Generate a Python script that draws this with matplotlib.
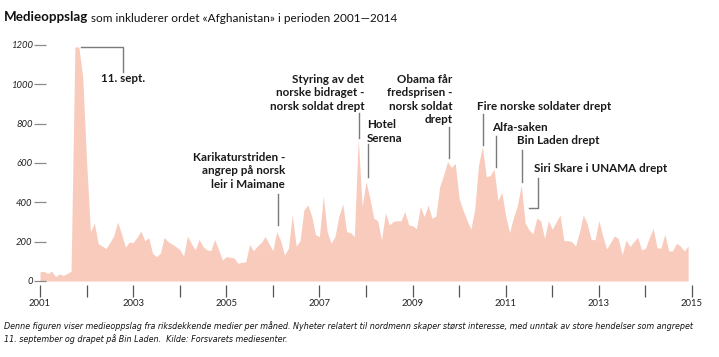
import matplotlib
matplotlib.use('Agg')
import matplotlib.pyplot as plt
import matplotlib.transforms as mtransforms
from matplotlib.ticker import FixedLocator, NullFormatter
import numpy as np

# ---------------- data (monthly media hits, Jan 2001 - Dec 2014) ----------------
start_year = 2001
values_2001 = [47, 49, 38, 50, 22, 36, 28, 38, 50, 1190, 1190, 1040]
values_2002 = [610, 250, 295, 190, 178, 165, 195, 230, 300, 240, 172, 198]
values_2003 = [195, 222, 254, 205, 220, 140, 124, 141, 222, 200, 188, 175]
values_2004 = [160, 127, 229, 190, 158, 212, 175, 158, 154, 212, 160, 107]
values_2005 = [124, 120, 117, 90, 95, 97, 185, 154, 178, 195, 226, 190]
values_2006 = [154, 251, 205, 132, 166, 336, 178, 205, 361, 387, 330, 235]
values_2007 = [226, 433, 251, 192, 226, 328, 392, 251, 246, 226, 726, 378]
values_2008 = [505, 421, 319, 307, 208, 347, 285, 302, 307, 305, 353, 285]
values_2009 = [281, 266, 378, 327, 386, 319, 330, 480, 539, 607, 578, 598]
values_2010 = [420, 360, 310, 263, 361, 590, 684, 531, 535, 569, 409, 450]
values_2011 = [331, 246, 324, 382, 489, 294, 260, 239, 319, 307, 217, 307]
values_2012 = [263, 300, 336, 205, 205, 200, 178, 250, 336, 290, 212, 209]
values_2013 = [307, 229, 163, 195, 229, 216, 132, 209, 175, 200, 222, 158]
values_2014 = [166, 220, 268, 168, 168, 238, 153, 153, 192, 178, 153, 178]

labeled_years = [2001, 2003, 2005, 2007, 2009, 2011, 2013, 2015]
unlabeled_years = [2002, 2004, 2006, 2008, 2010, 2012, 2014]
y_ticks = [0, 200, 400, 600, 800, 1000, 1200]

title_bold = "Medieoppslag"
title_rest = "som inkluderer ordet «Afghanistan» i perioden 2001\u20142014"
footer_1 = ("Denne figuren viser medieoppslag fra riksdekkende medier per måned. Nyheter relatert "
            "til nordmenn skaper størst interesse, med unntak av store hendelser som angrepet")
footer_2 = "11. september og drapet på Bin Laden.  Kilde: Forsvarets mediesenter."

values = (values_2001 + values_2002 + values_2003 + values_2004 + values_2005 +
          values_2006 + values_2007 + values_2008 + values_2009 + values_2010 +
          values_2011 + values_2012 + values_2013 + values_2014)

# ---------------- figure ----------------
W, H = 719, 357
fig = plt.figure(figsize=(W / 100, H / 100), dpi=100)
fig.patch.set_facecolor('white')

# pixel transform (origin top-left)
px = mtransforms.Affine2D().scale(1 / W, -1 / H).translate(0, 1) + fig.transFigure

ax = fig.add_axes([40 / W, (H - 281) / H, 652 / W, 236 / H])
months = np.arange(len(values))
xs = start_year + months / 12.0
ax.fill_between(xs, values, 0, color='#F8CBBD', lw=0, zorder=1)
ax.set_xlim(2001, 2015)
ax.set_ylim(0, 1200)
for s in ax.spines.values():
    s.set_visible(False)
ax.spines['bottom'].set_position(('outward', 3))

renderer = fig.canvas.get_renderer()

def fit_size(text, family, weight, style, target_px, base=10):
    t = fig.text(0, 0, text, family=family, weight=weight, style=style, fontsize=base)
    w = t.get_window_extent(renderer).width
    t.remove()
    return base * target_px / w

MAIN = ['Lato', 'DejaVu Sans']
NARROW = ['Liberation Sans Narrow', 'DejaVu Sans Condensed', 'DejaVu Sans']

ylab_fs = fit_size("1200", MAIN, 'normal', 'italic', 22)
xlab_fs = fit_size("2001", MAIN, 'normal', 'normal', 22)

ax.xaxis.set_major_locator(FixedLocator(labeled_years))
ax.xaxis.set_minor_locator(FixedLocator(unlabeled_years))
ax.xaxis.set_minor_formatter(NullFormatter())
ax.set_xticklabels([str(y) for y in labeled_years], family=MAIN, fontsize=xlab_fs, color='#222222')
ax.tick_params(axis='x', which='both', direction='out', length=8.4, width=0.9,
               color='#555555', pad=1.5)

ax.set_yticks(y_ticks)
ax.set_yticklabels([str(v) for v in y_ticks], family=MAIN, style='italic',
                   fontsize=ylab_fs, color='#222222')
ax.tick_params(axis='y', which='major', direction='inout', length=8.6, width=0.9,
               color='#8a8a8a', pad=1.0)
for t in ax.yaxis.get_major_ticks():
    t.tick1line.set_zorder(3)

# ---------------- title ----------------
tb_fs = fit_size(title_bold, MAIN, 'bold', 'normal', 84)
tr_fs = fit_size(title_rest, MAIN, 'normal', 'normal', 306)
tb = fig.text(4, 17, title_bold, transform=px, family=MAIN, weight='bold',
              fontsize=tb_fs, color='#111111', va='center', ha='left')
bb = tb.get_window_extent(renderer)
x_after = bb.x1 + 3
fig.text(x_after, 18, title_rest, transform=px, family=MAIN, fontsize=tr_fs,
         color='#111111', va='center', ha='left')

# ---------------- footer ----------------
f_fs = fit_size(footer_1, NARROW, 'normal', 'italic', 686)
fig.text(4, 326, footer_1, transform=px, family=NARROW, style='italic',
         fontsize=f_fs, color='#111111', va='center', ha='left')
fig.text(4, 339, footer_2, transform=px, family=NARROW, style='italic',
         fontsize=f_fs, color='#111111', va='center', ha='left')

# ---------------- annotations ----------------
ann_fs = fit_size("Fire norske soldater drept", MAIN, 'bold', 'normal', 134)
LC = '#7a7a7a'

def label(lines, x, ys, ha):
    for line, y in zip(lines, ys):
        fig.text(x, y, line, transform=px, family=MAIN, weight='bold',
                 fontsize=ann_fs, color='#1a1a1a', va='center', ha=ha)

def leader(xs_, ys_):
    fig.add_artist(plt.Line2D(xs_, ys_, transform=px, color=LC, lw=1.0))

leader([81, 122.7, 122.7], [47, 47, 71.5])
label(["11. sept."], 123.5, [78.5], 'center')

label(["Karikaturstriden -", "angrep på norsk", "leir i Maimane"], 285, [157.7, 171, 184.3], 'right')
leader([278.3, 278.3], [193.5, 225])

label(["Styring av det", "norske bidraget -", "norsk soldat drept"], 364.3, [79.3, 92.7, 106], 'right')
leader([359.3, 359.3], [112.5, 138.3])

label(["Hotel", "Serena"], 366.7, [124.3, 138.3], 'left')
leader([368.3, 368.3], [143.5, 176.7])

label(["Obama får", "fredsprisen -", "norsk soldat", "drept"], 452.7, [79.3, 92.7, 106, 119.3], 'right')
leader([449, 449], [127.3, 158.3])

label(["Fire norske soldater drept"], 476.7, [106], 'left')
leader([483.3, 483.3], [114, 145])

label(["Alfa-saken"], 492.3, [127.3], 'left')
leader([496, 496], [136, 166.7])

label(["Bin Laden drept"], 516.7, [140.7], 'left')
leader([521.7, 521.7], [150, 181.7])

label(["Siri Skare i UNAMA drept"], 534.3, [168.3], 'left')
leader([538.3, 538.3, 529.3], [177.7, 207.7, 207.7])

fig.savefig('out.png', dpi=100, facecolor='white')
